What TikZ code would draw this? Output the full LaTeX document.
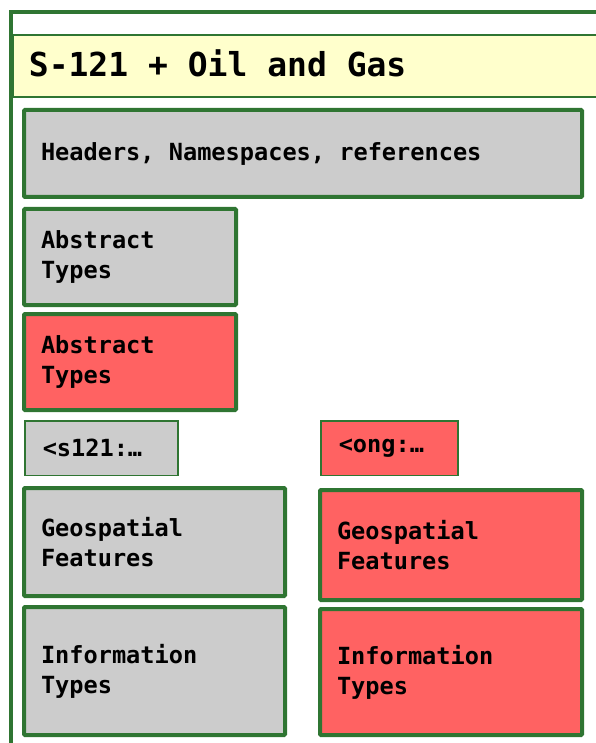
\documentclass[tikz,border=0pt]{standalone}
\usepackage{fontspec}
\setmonofont{DejaVu Sans Mono}
\definecolor{dkgreen}{HTML}{2F7532}
\definecolor{boxgray}{HTML}{CCCCCC}
\definecolor{boxred}{HTML}{FF6262}
\definecolor{bandyellow}{HTML}{FFFFCC}
\newcommand\monobold[2]{\ttfamily\bfseries\fontsize{#1}{#2}\selectfont}
\newcommand\blank{\hspace*{0.602em}}

\begin{document}
\begin{tikzpicture}[x=1pt,y=-1pt,
  box/.style={draw=dkgreen,line width=4pt,rounded corners=1pt,anchor=north west,
    align=left,inner xsep=17pt,inner ysep=0pt,font=\monobold{23.6}{30}},
  tag/.style={box,line width=1.5pt,rounded corners=0pt,inner xsep=18pt},
  gray/.style={fill=boxgray},
  red/.style={fill=boxred}]
\useasboundingbox (0,0) rectangle (595,743);
\draw[dkgreen,line width=4pt] (10.5,760) |- (610,12);
\node[draw=dkgreen,fill=bandyellow,line width=1.8pt,anchor=north west,align=left,
  inner xsep=16pt,inner ysep=0pt,text width=568pt,text depth=6pt,minimum height=61.5pt,
  font=\monobold{33}{40}] (ttl) at (12,34.3) {S-121\blank+\blank{}Oil\blank{}and\blank{}Gas};
\node[box,gray,text width=524pt,minimum height=87pt] (hdr) at (22,108) {Headers,\blank{}Namespaces,\blank{}references};
\node[box,gray,text width=178pt,minimum height=96pt] (absg) at (22,207) {Abstract\\Types};
\node[box,red,text width=178pt,minimum height=96pt] (absr) at (22,312) {Abstract\\Types};
\node[tag,gray,text width=117pt,minimum height=54.5pt] (s121) at (24,420) {<s121:…};
\node[tag,red,text width=101pt,minimum height=54.5pt] (ong) at (320,420) {<ong:…};
\node[box,gray,text width=227pt,minimum height=108pt] (geog) at (22,486) {Geospatial\\Features};
\node[box,red,text width=228pt,minimum height=110pt] (geor) at (318,488) {Geospatial\\Features};
\node[box,gray,text width=227pt,minimum height=128pt] (infg) at (22,605) {Information\\Types};
\node[box,red,text width=228pt,minimum height=126pt] (infr) at (318,607) {Information\\Types};
\end{tikzpicture}
\end{document}
